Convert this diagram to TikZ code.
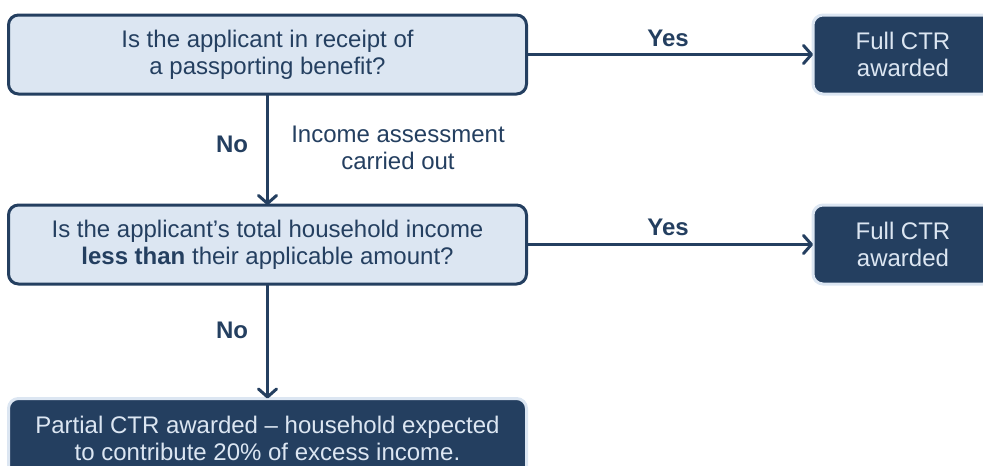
\documentclass[tikz,border=0pt]{standalone}
\usepackage{fontspec}
\setmainfont{Liberation Sans}
\usetikzlibrary{arrows.meta}
\definecolor{dkblue}{HTML}{243F60}
\definecolor{ltblue}{HTML}{DCE6F2}
\tikzset{
  qbox/.style={draw=dkblue, fill=ltblue, text=dkblue, line width=3pt, rounded corners=10pt,
    inner sep=0pt, outer sep=0pt, align=center, minimum height=79pt},
  rbox/.style={draw=ltblue, fill=dkblue, text=ltblue, line width=3pt, rounded corners=10pt,
    inner sep=0pt, outer sep=0pt, align=center, minimum height=79pt},
  flow/.style={draw=dkblue, line width=3pt,
    -{Straight Barb[length=8pt,width=18pt,line cap=round,line join=round]}},
  lbl/.style={text=dkblue, align=center, inner sep=0pt},
  blbl/.style={lbl, font=\fontsize{24}{27}\selectfont\bfseries},
  txt/.style={font=\fontsize{24}{27}\selectfont}
}
\begin{document}
\begin{tikzpicture}[x=1pt,y=-1pt,txt]
\useasboundingbox (0,0) rectangle (983,466);
\begin{scope}
\clip (0,0) rectangle (983,466);
\node[qbox, minimum width=518pt] (q1) at (267.5,54.5) {Is the applicant in receipt of\\a passporting benefit?};
\node[qbox, minimum width=518pt] (q2) at (267.5,244.5) {Is the applicant’s total household income\\\textbf{less than} their applicable amount?};
\node[rbox, minimum width=180pt] (f1) at (903,54.5) {Full CTR\\awarded};
\node[rbox, minimum width=180pt] (f2) at (903,244.5) {Full CTR\\awarded};
\node[rbox, minimum width=518pt] (p) at (267.5,438) {Partial CTR awarded – household expected\\to contribute 20\% of excess income.};
\end{scope}
\draw[flow] (q1.east) -- (f1.west);
\draw[flow] (q2.east) -- (f2.west);
\draw[flow] (q1.south) -- (q2.north);
\draw[flow] (q2.south) -- (p.north);
\node[blbl] (y1) at (668,38) {Yes};
\node[blbl] (y2) at (668,227) {Yes};
\node[blbl] (n1) at (232,144) {No};
\node[blbl] (n2) at (232,330) {No};
\node[lbl] (ia) at (398,147.5) {Income assessment\\carried out};
\end{tikzpicture}
\end{document}
